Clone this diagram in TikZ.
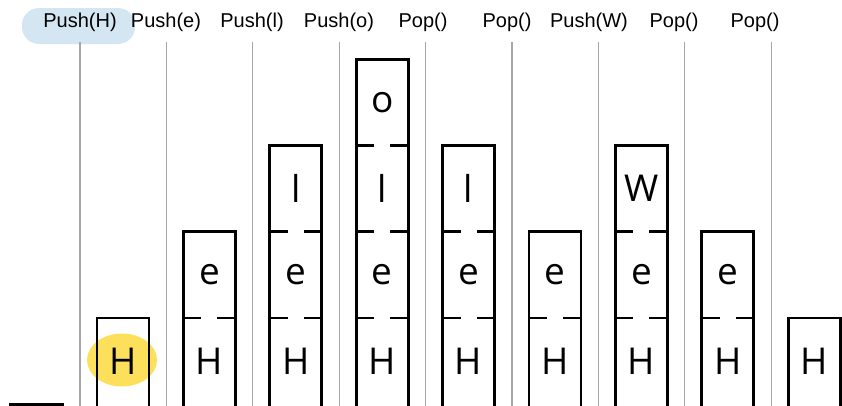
\documentclass[tikz,border=0pt]{standalone}
\usepackage{fontspec}
\setmainfont{Liberation Sans}
\newfontfamily\cellfont{Open Sans}
\definecolor{hlblue}{RGB}{211,230,242}
\definecolor{hlyellow}{RGB}{252,224,92}
\begin{document}
\begin{tikzpicture}[x=1pt,y=-1pt,
  sepline/.style={draw=black!35,line width=1.3pt},
  oplabel/.style={font=\fontsize{20}{22}\selectfont,inner sep=0pt,anchor=center},
  stackbox/.style={draw=black,line width=2.8pt,line join=miter},
  divider/.style={draw=black,line width=2.8pt},
  cellchar/.style={font=\cellfont\fontsize{37}{40}\selectfont,inner sep=0pt,anchor=center},
  bluehl/.style={fill=hlblue,rounded corners=17pt},
  yellowhl/.style={fill=hlyellow,draw=none}]
\useasboundingbox (0,0) rectangle (842,405);
% highlights
\fill[bluehl] (22,8) rectangle (135,44);
\fill[yellowhl] (122,360) ellipse [x radius=35, y radius=26.5];
% separator lines
\foreach \i in {0,...,8} {
  \coordinate (st\i) at ({80+86.4*\i},42);
  \coordinate (sb\i) at ({80+86.4*\i},406);
  \draw[sepline] (st\i) -- (sb\i);
}
% operation labels
\node[oplabel] (l0) at (80,22) {Push(H)};
\node[oplabel] (l1) at (166,22) {Push(e)};
\node[oplabel] (l2) at (252,22) {Push(l)};
\node[oplabel] (l3) at (339,22) {Push(o)};
\node[oplabel] (l4) at (423,22) {Pop()};
\node[oplabel] (l5) at (507,22) {Pop()};
\node[oplabel] (l6) at (589,22) {Push(W)};
\node[oplabel] (l7) at (674,22) {Pop()};
\node[oplabel] (l8) at (755,22) {Pop()};
% stacks
\foreach \j/\n/\cells in {0/0/{},1/1/{H},2/2/{H,e},3/3/{H,e,l},4/4/{H,e,l,o},5/3/{H,e,l},6/2/{H,e},7/3/{H,e,W},8/2/{H,e},9/1/{H}} {
  \pgfmathsetmacro{\cx}{36.6+86.4*\j}
  \pgfmathsetmacro{\top}{318-86.3*(\n-1)}
  \pgfmathsetmacro{\lx}{\cx-26}
  \pgfmathsetmacro{\rx}{\cx+26}
  \draw[stackbox] (\lx,420) -- (\lx,\top) -- (\rx,\top) -- (\rx,420);
  \foreach \c [count=\k] in \cells {
    \pgfmathsetmacro{\cy}{361-86.3*(\k-1)}
    \node[cellchar] (c\j-\k) at (\cx,\cy) {\c};
  }
  \ifnum\n>1
    \foreach \k in {2,...,\n} {
      \pgfmathsetmacro{\dy}{318-86.3*(\k-2)}
      \draw[divider] (\lx,\dy) -- ++(18,0);
      \draw[divider] (\rx,\dy) -- ++(-18,0);
    }
  \fi
}
\end{tikzpicture}
\end{document}
